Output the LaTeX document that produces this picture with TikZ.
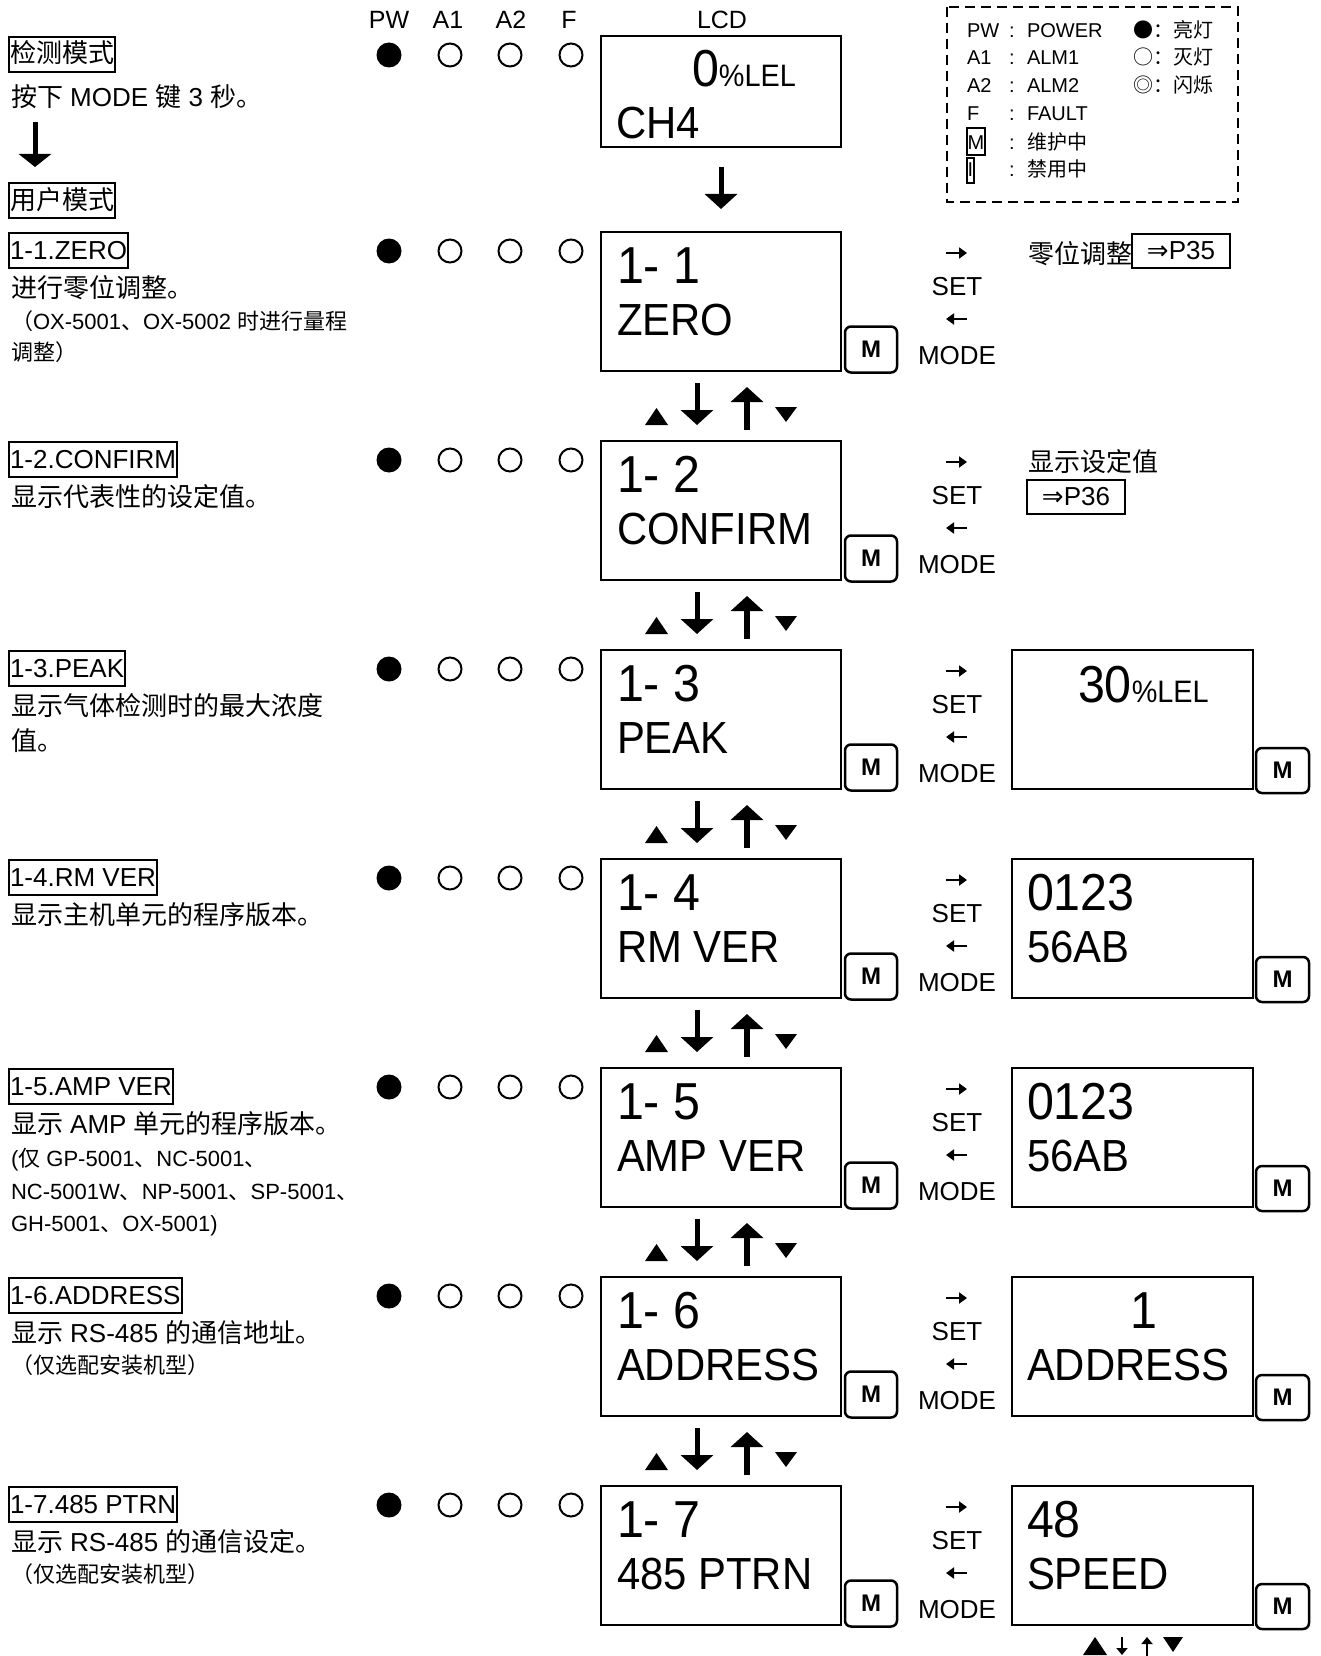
\documentclass[tikz,border=0pt]{standalone}
\usepackage{fontspec}
\setmainfont{Liberation Sans}
\newfontfamily\cjk{Noto Sans CJK SC}
\newfontfamily\djv{DejaVu Sans}
\newfontfamily\lcdf[FakeStretch=0.93]{Liberation Sans}
\usetikzlibrary{arrows.meta}
\newcommand\zh[1]{{\cjk #1}}
\newcommand\fsz[1]{\fontsize{#1}{#1}\selectfont}

\tikzset{
 every node/.style={outer sep=0pt},
 lcdbox/.style={draw, line width=2.5pt, anchor=north west, minimum width=240pt, minimum height=139pt, inner sep=0pt},
 lcdone/.style={anchor=base west, inner sep=0pt, font=\lcdf\fsz{52}},
 lcdtwo/.style={anchor=base west, inner sep=0pt, font=\lcdf\fsz{45}},
 lcdunit/.style={anchor=base west, inner sep=0pt, font=\lcdf\fsz{31}},
 mbtn/.style={draw, line width=2.5pt, rounded corners=6pt, minimum width=52pt, minimum height=46pt, inner sep=0pt, font=\bfseries\fsz{24}},
 ledon/.style={circle, fill=black, minimum size=25pt, inner sep=0pt},
 ledoff/.style={circle, draw, line width=2pt, minimum size=23pt, inner sep=0pt},
 lbl/.style={draw, line width=2pt, anchor=north west, inner xsep=1pt, inner ysep=2pt, text height=24pt, text depth=7pt, font=\fsz{26}},
 txt/.style={anchor=base west, inner sep=0pt, font=\fsz{26}},
 stxt/.style={anchor=base west, inner sep=0pt, font=\fsz{22}},
 hdr/.style={anchor=base, inner sep=0pt, font=\fsz{25}},
 side/.style={anchor=base, inner sep=0pt, font=\fsz{26}},
 sidearr/.style={line width=2.8pt, -{Triangle[width=11pt,length=8pt]}},
 bigarrow/.style={line width=5pt, -{Triangle[width=32pt,length=15pt]}},
 smallarrow/.style={line width=2pt, -{Triangle[width=11pt,length=7pt]}},
 refbox/.style={draw, line width=2pt, anchor=north west, inner sep=0pt, minimum width=98pt, minimum height=34pt, font=\fsz{26}},
 lg/.style={anchor=base west, inner sep=0pt, font=\fsz{20}},
 lgc/.style={anchor=base, inner sep=0pt, font=\fsz{20}},
}

\newcommand\rowbase[2]{%
 \node[lcdbox] (lcd#1) at (601,#2) {};
 \node[ledon] (pw#1) at (389,#2+19) {};
 \node[ledoff] (ao#1) at (450,#2+19) {};
 \node[ledoff] (at#1) at (510,#2+19) {};
 \node[ledoff] (fl#1) at (571,#2+19) {};
 \node[mbtn] (m#1) at (871,#2+117.5) {M};
 \draw[sidearr] (946,#2+21) -- (967,#2+21);
 \node[side] (set#1) at (957,#2+63) {SET};
 \draw[sidearr] (967,#2+87) -- (946,#2+87);
 \node[side] (mode#1) at (957,#2+132) {MODE};
}
\newcommand\rightbox[2]{%
 \node[lcdbox, minimum width=241pt] (rb#1) at (1012,#2) {};
 \node[mbtn, minimum width=53pt, minimum height=45pt] (rm#1) at (1282.5,#2+120.5) {M};
}
\newcommand\updown[3]{%
 \draw[bigarrow, shorten <=12pt, shorten >=16pt] ([xshift=-24pt]lcd#1.south) -- ([xshift=-24pt]lcd#2.north);
 \draw[bigarrow, line width=6pt, shorten <=11pt, shorten >=16pt] ([xshift=26pt]lcd#2.north) -- ([xshift=26pt]lcd#1.south);
 \fill (645,#3+193) -- (668,#3+193) -- (656.5,#3+176) -- cycle;
 \fill (775,#3+175) -- (797,#3+175) -- (786,#3+190) -- cycle;
}

\begin{document}
\begin{tikzpicture}[x=1pt,y=-1pt]
\useasboundingbox (0,0) rectangle (1320,1656);

% header
\node[hdr] (hpw) at (389,29) {PW};
\node[hdr] (ha1) at (448,29) {A1};
\node[hdr] (ha2) at (511,29) {A2};
\node[hdr] (hf) at (569,29) {F};
\node[hdr] (hlcd) at (722,29) {LCD};

% legend
\draw[line width=2.5pt, dash pattern=on 10pt off 6pt] (947,7) rectangle (1238,202);
\node[lg] (lg1) at (967,38) {PW};
\node[lg] (lg2) at (967,65) {A1};
\node[lg] (lg3) at (967,93) {A2};
\node[lg] (lg4) at (967,121) {F};
\node[draw, line width=2pt, anchor=north west, inner xsep=0.5pt, inner ysep=1pt, text height=21pt, text depth=4pt, font=\fsz{20}] (lg5) at (967,128) {M};
\node[draw, line width=2pt, anchor=north west, inner xsep=0.5pt, inner ysep=0.5pt, text height=18pt, text depth=6pt, font=\fsz{20}] (lg6) at (967,158) {I};
\foreach \yy/\nn in {38/1,65/2,93/3,121/4,150/5,177/6}{
  \node[lgc] (lgc\nn) at (1012,\yy) {:};
}
\node[lg] (lgt1) at (1027,38) {POWER};
\node[lg] (lgt2) at (1027,65) {ALM1};
\node[lg] (lgt3) at (1027,93) {ALM2};
\node[lg] (lgt4) at (1027,121) {FAULT};
\node[lg] (lgt5) at (1027,150) {\zh{维护中}};
\node[lg] (lgt6) at (1027,177) {\zh{禁用中}};
\node[lg] (lgs1) at (1133,38) {\zh{●：亮灯}};
\node[lg] (lgs2) at (1133,65) {\zh{○：灭灯}};
\node[lg] (lgs3) at (1133,93) {\zh{◎：闪烁}};

% top left
\node[lbl] (det) at (9,37) {\zh{检测模式}};
\node[txt] (press) at (11,107) {\zh{按下} MODE \zh{键} 3 \zh{秒。}};
\node[lbl] (user) at (9,183) {\zh{用户模式}};
\draw[bigarrow, line width=5pt, -{Triangle[width=32pt,length=13pt]}, shorten <=13pt, shorten >=16pt] ([xshift=24pt]press.south west) -- ([xshift=26pt]user.north west);

% top lcd
\node[lcdbox, minimum height=111pt] (lcd0) at (601,36) {};
\node[ledon] (pw0) at (389,55) {};
\node[ledoff] (ao0) at (450,55) {};
\node[ledoff] (at0) at (510,55) {};
\node[ledoff] (fl0) at (571,55) {};
\node[lcdone] (t0a) at (692,87) {0};
\node[lcdunit] (t0b) at (t0a.base east) {\%LEL};
\node[lcdtwo] (t0c) at (616,139) {CH4};

% rows
\rowbase{1}{232}
\rowbase{2}{441}
\rowbase{3}{650}
\rowbase{4}{859}
\rowbase{5}{1068}
\rowbase{6}{1277}
\rowbase{7}{1486}

\draw[bigarrow, shorten <=20pt, shorten >=23pt] (lcd0.south) -- (lcd1.north);

\node[lcdone] (c1a) at (617,283) {1- 1};
\node[lcdtwo] (c1b) at (617,335) {ZERO};
\node[lcdone] (c2a) at (617,492) {1- 2};
\node[lcdtwo] (c2b) at (617,544) {CONFIRM};
\node[lcdone] (c3a) at (617,701) {1- 3};
\node[lcdtwo] (c3b) at (617,753) {PEAK};
\node[lcdone] (c4a) at (617,910) {1- 4};
\node[lcdtwo] (c4b) at (617,962) {RM VER};
\node[lcdone] (c5a) at (617,1119) {1- 5};
\node[lcdtwo] (c5b) at (617,1171) {AMP VER};
\node[lcdone] (c6a) at (617,1328) {1- 6};
\node[lcdtwo] (c6b) at (617,1380) {ADDRESS};
\node[lcdone] (c7a) at (617,1537) {1- 7};
\node[lcdtwo] (c7b) at (617,1589) {485 PTRN};

\updown{1}{2}{232}
\updown{2}{3}{441}
\updown{3}{4}{650}
\updown{4}{5}{859}
\updown{5}{6}{1068}
\updown{6}{7}{1277}

% left labels
\node[lbl] (l1) at (9,233) {1-1.ZERO};
\node[txt] (d1a) at (11,297) {\zh{进行零位调整。}};
\node[stxt] (d1b) at (11,329) {\zh{（}OX-5001\zh{、}OX-5002 \zh{时进行量程}};
\node[stxt] (d1c) at (11,360) {\zh{调整）}};

\node[lbl] (l2) at (9,442) {1-2.CONFIRM};
\node[txt] (d2a) at (11,506) {\zh{显示代表性的设定值。}};

\node[lbl] (l3) at (9,651) {1-3.PEAK};
\node[txt] (d3a) at (11,715) {\zh{显示气体检测时的最大浓度}};
\node[txt] (d3b) at (11,750) {\zh{值。}};

\node[lbl] (l4) at (9,860) {1-4.RM VER};
\node[txt] (d4a) at (11,924) {\zh{显示主机单元的程序版本。}};

\node[lbl] (l5) at (9,1069) {1-5.AMP VER};
\node[txt] (d5a) at (11,1133) {\zh{显示} AMP \zh{单元的程序版本。}};
\node[stxt] (d5b) at (11,1166) {(\zh{仅} GP-5001\zh{、}NC-5001\zh{、}};
\node[stxt] (d5c) at (11,1199) {NC-5001W\zh{、}NP-5001\zh{、}SP-5001\zh{、}};
\node[stxt] (d5d) at (11,1231) {GH-5001\zh{、}OX-5001)};

\node[lbl] (l6) at (9,1278) {1-6.ADDRESS};
\node[txt] (d6a) at (11,1342) {\zh{显示} RS-485 \zh{的通信地址。}};
\node[stxt] (d6b) at (11,1373) {\zh{（仅选配安装机型）}};

\node[lbl] (l7) at (9,1487) {1-7.485 PTRN};
\node[txt] (d7a) at (11,1551) {\zh{显示} RS-485 \zh{的通信设定。}};
\node[stxt] (d7b) at (11,1582) {\zh{（仅选配安装机型）}};

% right side notes
\node[txt] (n1) at (1028,263) {\zh{零位调整}};
\node[refbox] (p35) at (1132,234) {{\djv ⇒}P35};
\node[txt] (n2) at (1028,471) {\zh{显示设定值}};
\node[refbox] (p36) at (1027,480) {{\djv ⇒}P36};

% right boxes
\rightbox{3}{650}
\rightbox{4}{859}
\rightbox{5}{1068}
\rightbox{6}{1277}
\rightbox{7}{1486}

\node[lcdone] (r3a) at (1078,702) {30};
\node[lcdunit] (r3b) at (r3a.base east) {\%LEL};
\node[lcdone] (r4a) at (1027,910) {0123};
\node[lcdtwo] (r4b) at (1027,962) {56AB};
\node[lcdone] (r5a) at (1027,1119) {0123};
\node[lcdtwo] (r5b) at (1027,1171) {56AB};
\node[lcdone, anchor=base] (r6a) at (1144,1328) {1};
\node[lcdtwo] (r6b) at (1027,1380) {ADDRESS};
\node[lcdone] (r7a) at (1027,1537) {48};
\node[lcdtwo] (r7b) at (1027,1589) {SPEED};

% bottom small arrows
\coordinate (bdn) at (1122,1655);
\coordinate (bup) at (1147,1656);
\draw[smallarrow, shorten <=12pt] (rb7.south -| bdn) -- (bdn);
\draw[smallarrow, line width=2.5pt, shorten >=12pt] (bup) -- (rb7.south -| bup);
\fill (1083,1655) -- (1107,1655) -- (1095,1637) -- cycle;
\fill (1163,1637) -- (1183,1637) -- (1173,1652) -- cycle;
\end{tikzpicture}
\end{document}
